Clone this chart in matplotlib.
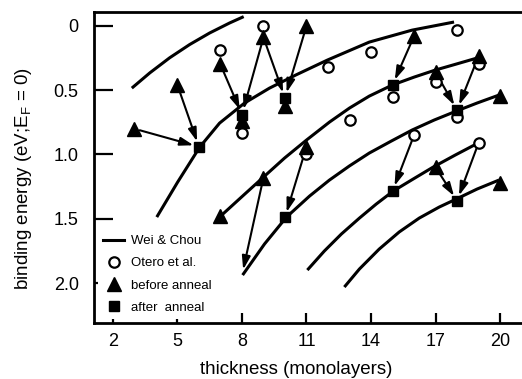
import numpy as np
import matplotlib
matplotlib.use("Agg")
import matplotlib.pyplot as plt
from matplotlib.lines import Line2D

plt.rcParams['font.family'] = ['Liberation Sans', 'DejaVu Sans']

# Wei & Chou curves (thickness, binding energy)
c1_x = [2.88, 3.72, 4.64, 5.57, 6.5, 7.43, 8.08]
c1_y = [0.484, 0.365, 0.248, 0.145, 0.055, -0.023, -0.072]
c2_x = [4.04, 5.01, 6.04, 6.96, 8.12, 9.28, 10.49, 11.97, 13.92, 15.91, 17.86]
c2_y = [1.487, 1.215, 0.942, 0.756, 0.6, 0.484, 0.383, 0.266, 0.126, 0.033, -0.03]
c3_x = [7.01, 7.98, 9.0, 9.98, 11.0, 12.07, 13.0, 13.92, 14.99, 16.01, 16.98, 17.96, 18.93]
c3_y = [1.479, 1.331, 1.176, 1.028, 0.888, 0.748, 0.639, 0.546, 0.46, 0.398, 0.344, 0.297, 0.25]
c4_x = [8.03, 9.05, 10.07, 11.14, 12.06, 12.99, 13.92, 14.94, 15.91, 16.94, 17.96, 18.93, 19.95]
c4_y = [1.938, 1.696, 1.487, 1.324, 1.2, 1.09, 0.989, 0.896, 0.81, 0.732, 0.663, 0.6, 0.538]
c5_x = [11.04, 11.83, 12.62, 13.46, 14.24, 15.03, 15.96, 16.89, 17.91, 18.98]
c5_y = [1.899, 1.751, 1.619, 1.495, 1.386, 1.285, 1.191, 1.098, 1.005, 0.911]
c6_x = [12.76, 13.46, 14.38, 15.31, 16.24, 17.17, 17.96, 18.93, 19.95]
c6_y = [2.031, 1.891, 1.736, 1.603, 1.495, 1.409, 1.347, 1.269, 1.199]
curves = [(c1_x, c1_y), (c2_x, c2_y), (c3_x, c3_y),
          (c4_x, c4_y), (c5_x, c5_y), (c6_x, c6_y)]

# Otero et al.
otero_x = [7, 8, 9, 11, 12, 13, 14, 15, 16, 17, 18, 18, 19, 19]
otero_y = [0.19, 0.83, 0.0, 1.0, 0.32, 0.73, 0.2, 0.55, 0.85, 0.44, 0.03, 0.71, 0.3, 0.91]

# before anneal
before_x = [3, 5, 7, 9, 11, 16, 17, 19, 20, 11, 9, 7, 17, 20, 10, 8]
before_y = [0.8, 0.46, 0.3, 0.09, 0.0, 0.08, 0.36, 0.235, 0.545, 0.94, 1.18, 1.48, 1.1, 1.22, 0.62, 0.74]

# after anneal
after_x = [6, 8, 10, 10, 15, 15, 18, 18]
after_y = [0.94, 0.69, 0.56, 1.49, 0.46, 1.285, 0.655, 1.36]

# arrows: (from x, from y, to x, to y)
arrows = [(3, 0.8, 6, 0.94), (5, 0.46, 6, 0.94),
          (7, 0.3, 8, 0.69), (9, 0.09, 8, 0.69),
          (9, 0.09, 10, 0.56), (11, 0.0, 10, 0.56),
          (16, 0.08, 15, 0.46), (17, 0.36, 18, 0.655),
          (19, 0.235, 18, 0.655), (11, 0.94, 10, 1.49),
          (9, 1.18, 8, 1.938), (16, 0.85, 15, 1.285),
          (17, 1.1, 18, 1.36), (19, 0.91, 18, 1.36)]

fig = plt.figure(figsize=(5.22, 3.79), dpi=100)
ax = fig.add_axes([0.18, 0.148, 0.818, 0.82])

for cx, cy in curves:
    ax.plot(cx, cy, color='k', lw=2.2, solid_capstyle='butt', solid_joinstyle='round', zorder=2)

for x0, y0, x1, y1 in arrows:
    ax.annotate('', xy=(x1, y1), xytext=(x0, y0),
                arrowprops=dict(arrowstyle='-|>,head_length=0.8,head_width=0.25',
                                color='k', lw=1.5, shrinkA=4, shrinkB=4),
                zorder=3)

ax.plot(otero_x, otero_y, 'o', ms=7.5, mfc='white', mec='k', mew=1.6, ls='none', zorder=4)
ax.plot(before_x, before_y, '^', ms=10, color='k', ls='none', zorder=5)
ax.plot(after_x, after_y, 's', ms=7.5, color='k', ls='none', zorder=5)

ax.set_xlim(1.12, 20.97)
ax.set_ylim(2.31, -0.107)
ax.set_xticks([2, 5, 8, 11, 14, 17, 20])
ax.set_yticks([0, 0.5, 1.0, 1.5, 2.0])
ax.set_yticklabels(['0', '0.5', '1.0', '1.5', '2.0'])
ax.tick_params(axis='y', direction='in', length=14, width=1.6, pad=11, labelsize=13)
ax.tick_params(axis='x', direction='in', length=7, width=1.6, pad=7, labelsize=13)
ax.spines['right'].set_visible(False)
for s in ['left', 'top', 'bottom']:
    ax.spines[s].set_linewidth(2)

ax.set_xlabel('thickness (monolayers)', fontsize=13.5)
ax.set_ylabel('binding energy (eV;E$_\\mathregular{F}$ = 0)', fontsize=13.5)
ax.xaxis.set_label_coords(0.474, -0.122)
ax.yaxis.set_label_coords(-0.14, 0.465)

handles = [Line2D([], [], color='k', lw=2.2),
           Line2D([], [], marker='o', ls='none', ms=7.5, mfc='white', mec='k', mew=1.6),
           Line2D([], [], marker='^', ls='none', ms=10, color='k'),
           Line2D([], [], marker='s', ls='none', ms=7.5, color='k')]
labels = ['Wei & Chou', 'Otero et al.', 'before anneal', 'after  anneal']
leg = ax.legend(handles, labels, loc='lower left', bbox_to_anchor=(0.0, 0.0),
                fontsize=9.5, frameon=True, framealpha=1, edgecolor='none',
                facecolor='white', handlelength=1.6, handletextpad=0.5,
                labelspacing=0.75, borderpad=0.4, borderaxespad=0.3)

fig.savefig('out.png', dpi=100)
